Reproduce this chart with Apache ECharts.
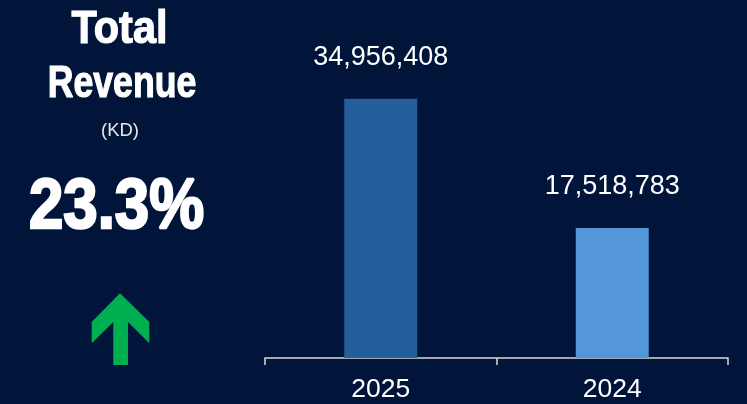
<!DOCTYPE html>
<html>
<head>
<meta charset="utf-8">
<script src="https://cdn.jsdelivr.net/npm/echarts@6/dist/echarts.min.js"></script>
<style>
html,body{margin:0;padding:0;background:#011439;}
#c{width:747px;height:404px;}
</style>
</head>
<body>
<div id="c"></div>
<script>
const categories = ['2025', '2024'];
const revenue = [34956408, 17518783];
const barColors = ['#245F9C', '#5496DA'];
const headline = ['Total', 'Revenue'];
const unitText = '(KD)';
const changeText = '23.3%';

const chart = echarts.init(document.getElementById('c'), null, {renderer: 'canvas'});
const fmt = v => v.toLocaleString('en-US');
const FF = '"Liberation Sans", Arial, sans-serif';

chart.setOption({
  backgroundColor: '#011439',
  animation: false,
  grid: {left: 265, right: 19, top: 39, bottom: 46, containLabel: false},
  xAxis: {
    type: 'category',
    data: categories,
    axisLine: {show: true, lineStyle: {color: '#D9D9D9', width: 1.5}},
    axisTick: {show: true, length: 7, lineStyle: {color: '#D9D9D9', width: 1.5}},
    axisLabel: {color: '#FFFFFF', fontSize: 26.5, margin: 18, fontFamily: FF}
  },
  yAxis: {
    type: 'value', min: 0, max: 43000000, show: false,
    splitLine: {show: false}
  },
  series: [{
    type: 'bar',
    barWidth: 73,
    data: revenue.map((v, i) => ({value: v, itemStyle: {color: barColors[i]}})),
    label: {
      show: true, position: 'top', distance: 28,
      color: '#FFFFFF', fontSize: 27, fontFamily: FF,
      formatter: p => fmt(p.value)
    }
  }],
  graphic: [
    {type: 'text', x: 119.5, y: 30, scaleX: 0.9,
     style: {text: headline[0], fill: '#FFFFFF', stroke: '#FFFFFF', lineWidth: 1.2, fontSize: 46, fontWeight: 'bold',
             fontFamily: FF, textAlign: 'center', textVerticalAlign: 'middle'}},
    {type: 'text', x: 122, y: 85, scaleX: 0.81,
     style: {text: headline[1], fill: '#FFFFFF', stroke: '#FFFFFF', lineWidth: 1.2, fontSize: 44, fontWeight: 'bold',
             fontFamily: FF, textAlign: 'center', textVerticalAlign: 'middle'}},
    {type: 'text', x: 120, y: 130.5,
     style: {text: unitText, fill: '#E8E8E8', fontSize: 18.5,
             fontFamily: FF, textAlign: 'center', textVerticalAlign: 'middle'}},
    {type: 'text', x: 116.5, y: 208, scaleX: 0.87,
     style: {text: changeText, fill: '#FFFFFF', stroke: '#FFFFFF', lineWidth: 2.5, fontSize: 71, fontWeight: 'bold',
             fontFamily: FF, textAlign: 'center', textVerticalAlign: 'middle'}},
    {type: 'polygon',
     shape: {points: [[120,293.3],[149.3,322],[149.3,343.3],[128,322],[128,365],[113.3,365],[113.3,322],[91.7,343.3],[91.7,322]]},
     style: {fill: '#00B050'}}
  ]
});
</script>
</body>
</html>
